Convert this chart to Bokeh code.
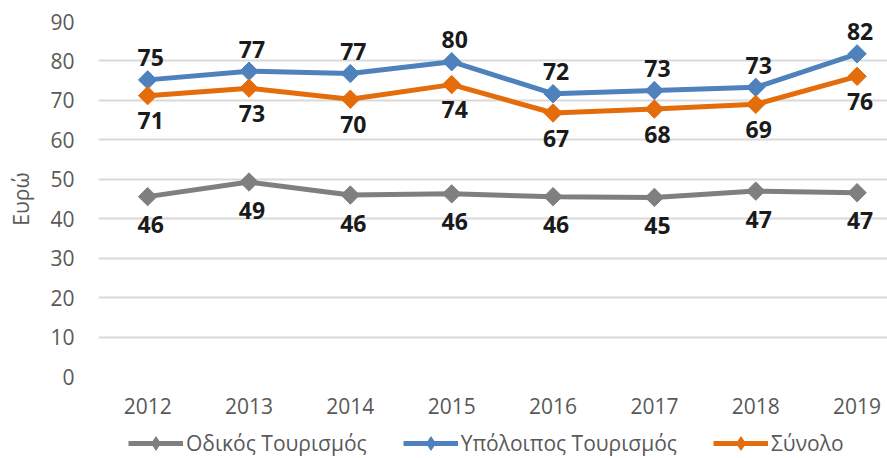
from math import pi
from bokeh.plotting import figure
from bokeh.layouts import column
from bokeh.models import Range1d, FixedTicker, Legend, LegendItem, ColumnDataSource
from bokeh.core.properties import value
from bokeh.embed import file_html
from bokeh.resources import INLINE

years = ["2012", "2013", "2014", "2015", "2016", "2017", "2018", "2019"]
road = [45.6, 49.3, 46.0, 46.3, 45.6, 45.4, 47.0, 46.6]
other = [75.2, 77.4, 76.8, 79.8, 71.7, 72.5, 73.3, 81.8]
total = [71.2, 73.1, 70.3, 74.0, 66.8, 67.8, 69.0, 76.1]
road_lbl = ["46", "49", "46", "46", "46", "45", "47", "47"]
other_lbl = ["75", "77", "77", "80", "72", "73", "73", "82"]
total_lbl = ["71", "73", "70", "74", "67", "68", "69", "76"]
series_names = ["Οδικός Τουρισμός", "Υπόλοιπος Τουρισμός", "Σύνολο"]
y_ticks = [0, 10, 20, 30, 40, 50, 60, 70, 80, 90]

FONT = "Open Sans"
TXT = "#595959"

p = figure(frame_width=789, frame_height=355, output_backend="svg", toolbar_location=None,
           x_range=Range1d(-0.485, 7.3), y_range=Range1d(0, 90),
           min_border_left=98, min_border_top=21, min_border_right=0, min_border_bottom=44)
p.outline_line_color = None
p.background_fill_color = "white"
p.border_fill_color = "white"

p.xgrid.grid_line_color = None
p.ygrid.grid_line_color = "#d9d9d9"
p.ygrid.grid_line_width = 2

p.yaxis.ticker = FixedTicker(ticks=y_ticks)
p.xaxis.ticker = FixedTicker(ticks=list(range(len(years))))
p.xaxis.major_label_overrides = {i: y for i, y in enumerate(years)}
for ax in (p.xaxis[0], p.yaxis[0]):
    ax.axis_line_color = None
    ax.major_tick_line_color = None
    ax.minor_tick_line_color = None
    ax.major_tick_out = 0
    ax.major_tick_in = 0
    ax.major_label_text_color = TXT
    ax.major_label_text_font = FONT
    ax.major_label_text_font_size = "21px"
p.yaxis.major_label_standoff = 24
p.xaxis.major_label_standoff = 21
p.yaxis.axis_label = "Ευρώ"
p.yaxis.axis_label_text_font = FONT
p.yaxis.axis_label_text_font_size = "21px"
p.yaxis.axis_label_text_font_style = "normal"
p.yaxis.axis_label_text_color = TXT
p.yaxis.axis_label_standoff = 12

xs = list(range(len(years)))
colors = ["#7f7f7f", "#4f81bd", "#e46c0a"]
datas = [road, other, total]
labels = [road_lbl, other_lbl, total_lbl]
offsets = [28, -22, 25]

# legend-only strip below the chart
lf = figure(width=887, height=40, output_backend="svg", toolbar_location=None,
            x_range=Range1d(0, 1), y_range=Range1d(1000, 1001),
            min_border_left=0, min_border_right=0, min_border_top=0, min_border_bottom=0)
lf.axis.visible = False
lf.grid.visible = False
lf.outline_line_color = None

items = []
for name, col, d, lb, off in zip(series_names, colors, datas, labels, offsets):
    src = ColumnDataSource(dict(x=xs, y=d, t=lb))
    p.line("x", "y", source=src, line_color=col, line_width=5)
    p.scatter("x", "y", source=src, marker="square", angle=pi / 4, size=13,
              fill_color=col, line_color=col, line_width=1)
    p.text("x", "y", text="t", source=src, text_font=value(FONT), text_font_style="bold",
           text_font_size="23px", text_color="#1a1a1a", text_align="center",
           text_baseline="middle", y_offset=off, x_offset=3)
    ln = lf.line("x", "y", source=src, line_color=col, line_width=5)
    sc = lf.scatter("x", "y", source=src, marker="diamond", size=17,
                    fill_color=col, line_color=col, line_width=1)
    items.append(LegendItem(label=name, renderers=[ln, sc]))

legend = Legend(items=items, orientation="horizontal", location=(30, 0),
                label_text_font=FONT, label_text_font_size="21px", label_text_color=TXT,
                glyph_width=55, glyph_height=34, label_height=34, spacing=36, label_standoff=3,
                border_line_color=None, background_fill_alpha=0, padding=0, margin=0)
lf.add_layout(legend, "center")

open("out.html", "w").write(file_html(column(p, lf, spacing=0), INLINE))
